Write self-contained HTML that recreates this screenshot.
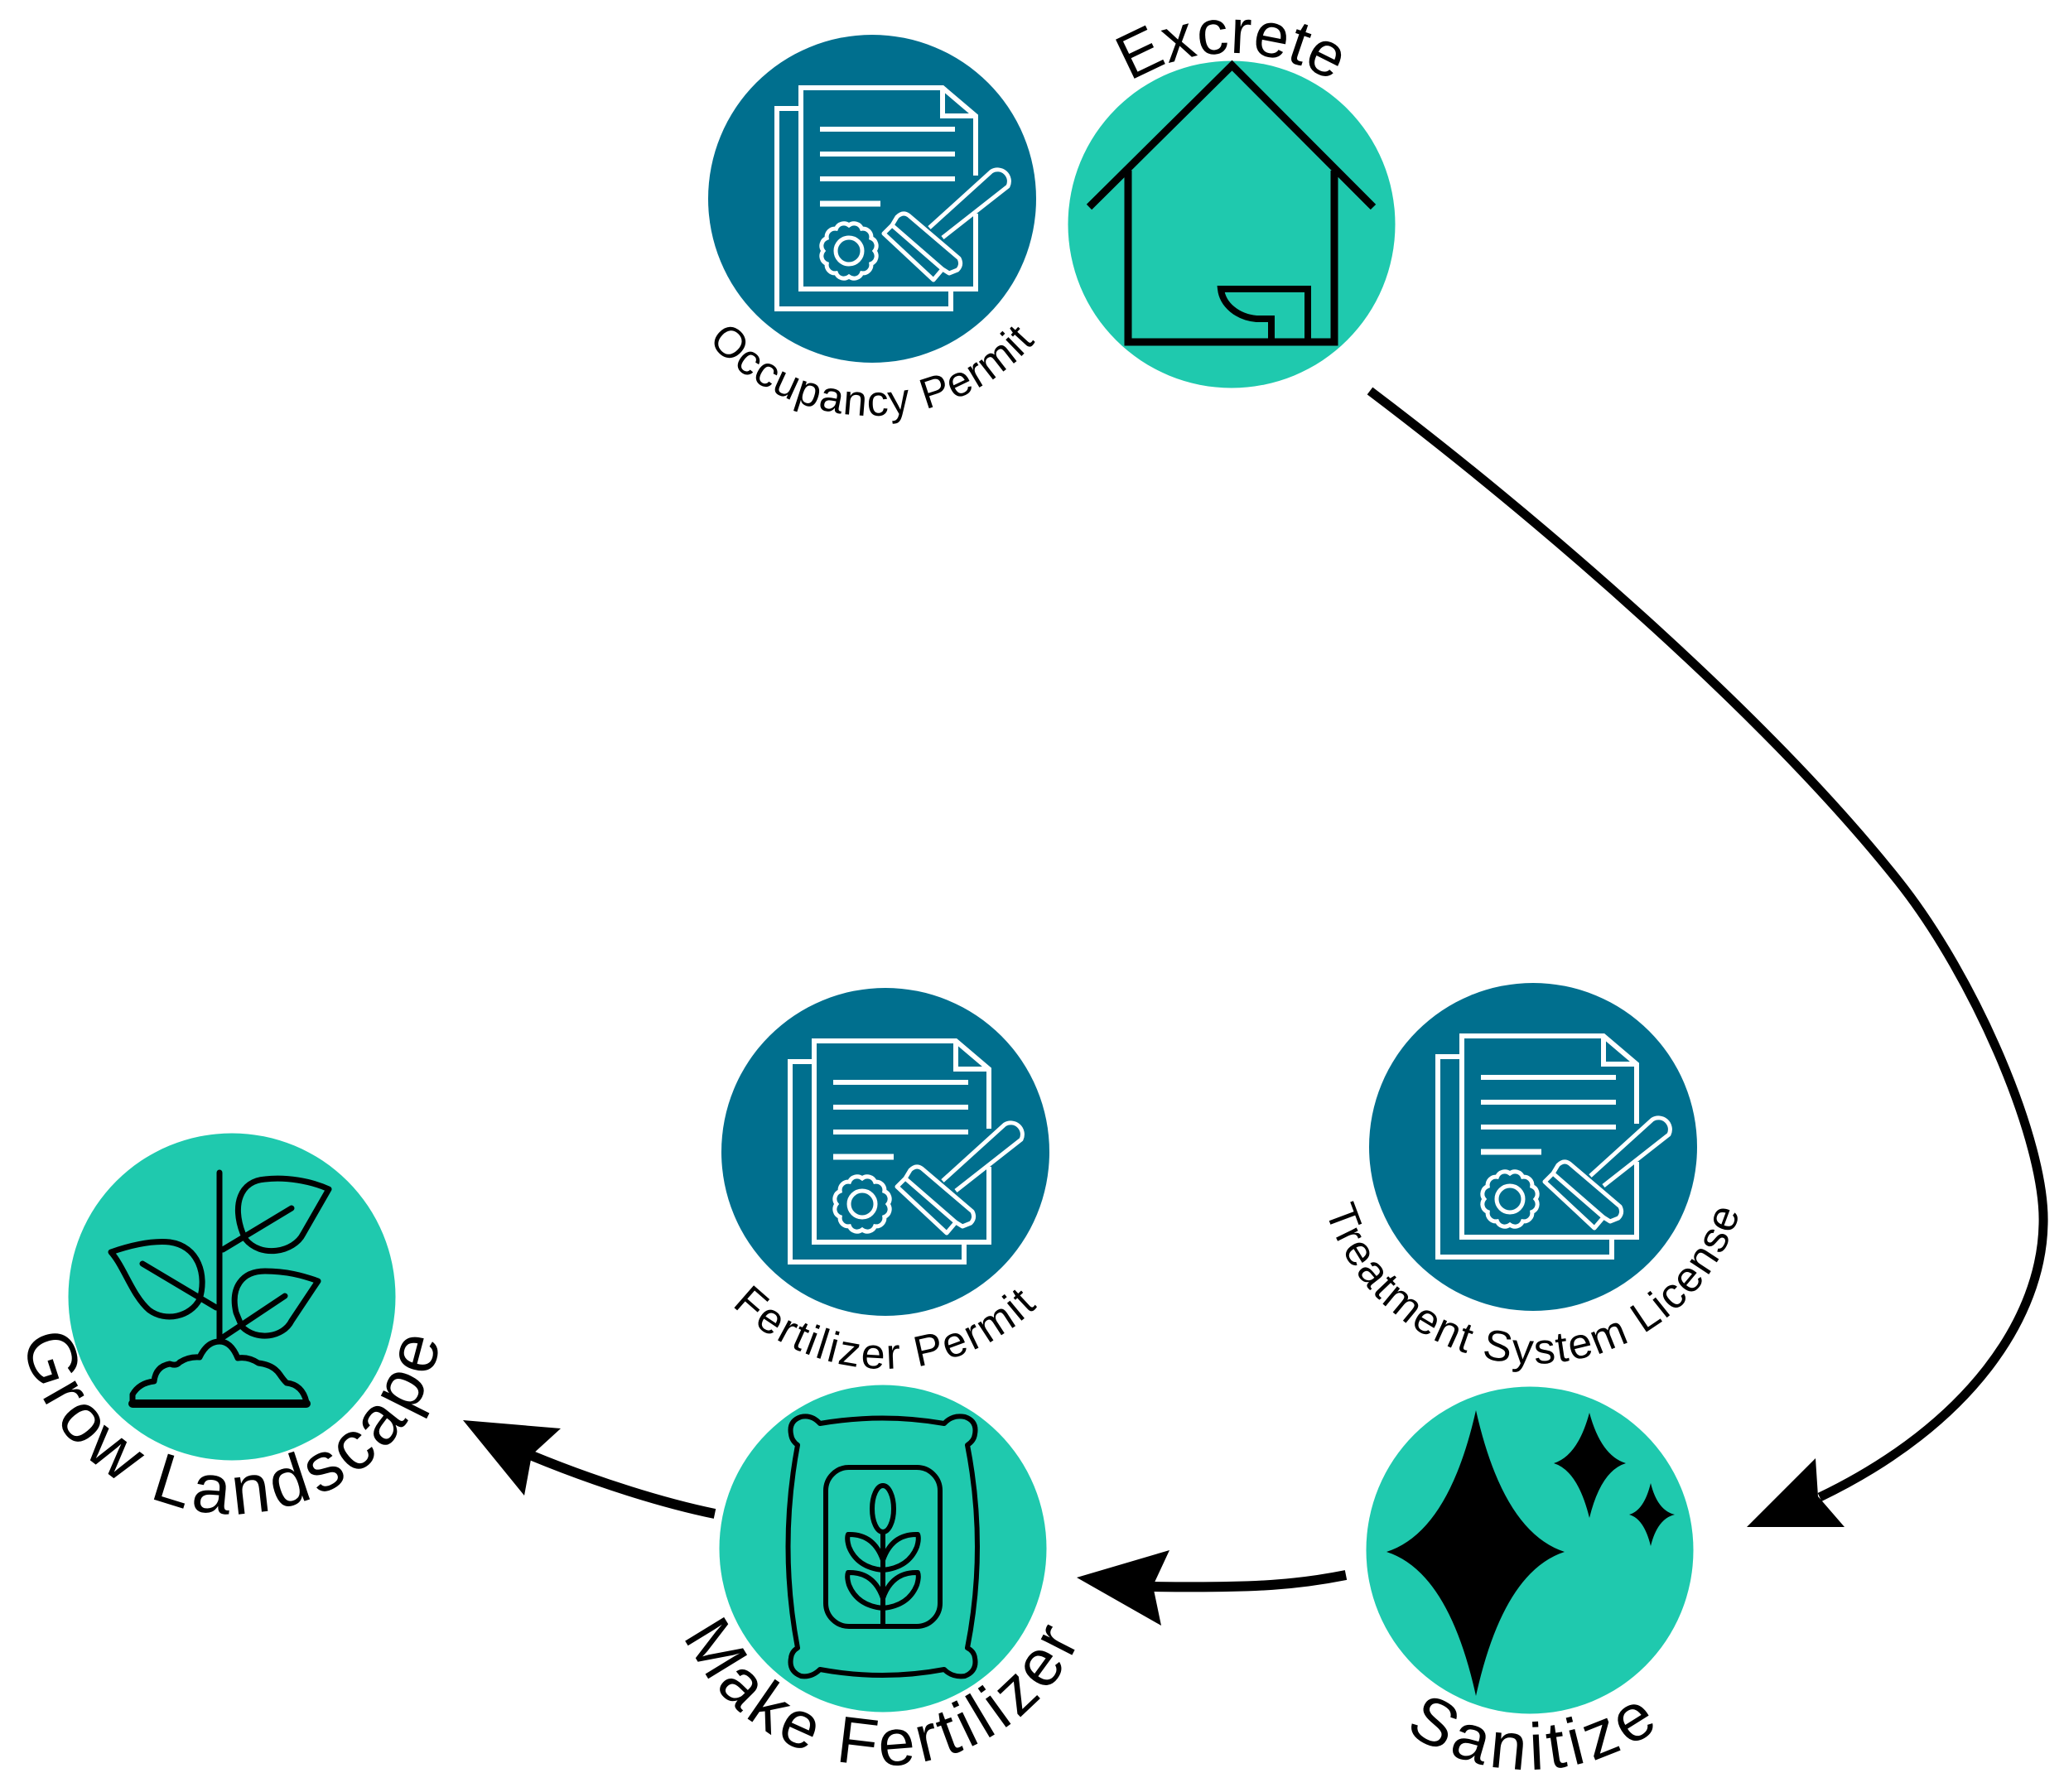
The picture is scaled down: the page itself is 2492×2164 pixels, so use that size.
<!DOCTYPE html>
<html lang="en">
<head>
<meta charset="utf-8">
<title>Diagram</title>
<style>
html,body{margin:0;padding:0;background:#fff;}
svg{display:block;}
text{font-family:"Liberation Sans",sans-serif;fill:#000;text-anchor:middle;}
.s{font-size:52px;}
.b{font-size:80px;}
</style>
</head>
<body>
<svg xmlns="http://www.w3.org/2000/svg" width="2492" height="2164" viewBox="0 0 2492 2164">
<defs>
<g id="doc" fill="none" stroke="#fff" stroke-width="6">
  <path d="M967,131H938V373H1148V350"/>
  <path d="M1178,212V140L1138,106H967V349H1178V258"/>
  <path d="M1138,106V140H1178"/>
  <path d="M990,156H1153M990,186H1153M990,216H1153" stroke-width="6"/>
  <path d="M990,246H1063" stroke-width="7"/>
  <path stroke-width="5" d="M1056,303A10,10 0 0 1 1051.800,318.500A10,10 0 0 1 1040.500,329.800A10,10 0 0 1 1025,334A10,10 0 0 1 1009.500,329.800A10,10 0 0 1 998.200,318.500A10,10 0 0 1 994,303A10,10 0 0 1 998.200,287.500A10,10 0 0 1 1009.500,276.200A10,10 0 0 1 1025,272A10,10 0 0 1 1040.500,276.200A10,10 0 0 1 1051.800,287.500A10,10 0 0 1 1056,303Z"/>
  <circle cx="1025" cy="303" r="16" stroke-width="5"/>
  <path d="M1122,275L1197,207A14,14 0 0 1 1217,225L1138,287" stroke-width="5" stroke-linejoin="round" fill="#006f8e"/>
  <path d="M1067,282L1077,272L1083,262Q1090,255 1097,260L1158,312Q1162,320 1156,326L1146,330L1138,325L1127,338Z" stroke-width="5" stroke-linejoin="round" fill="#006f8e"/>
  <path d="M1077,272L1138,325" stroke-width="5"/>
</g>
<path id="a1" d="M791,240A262,262 0 0 0 1315,240"/>
<path id="a2" d="M1589,1385A262,262 0 0 0 2113,1385"/>
<path id="a3" d="M807,1391A262,262 0 0 0 1331,1391"/>
<path id="a4" d="M1255,296A232,232 0 0 1 1719,296"/>
<path id="a5" d="M1582,1872A265,265 0 0 0 2112,1872"/>
<path id="a6" d="M804,1870A262,262 0 0 0 1328,1870"/>
<path id="a7" d="M24,1572A256,256 0 0 0 536,1572"/>
</defs>

<!-- curved arrows -->
<g fill="none" stroke="#000" stroke-linecap="butt">
<path stroke-width="11" d="M1654,472C1850,620 2130,860 2292,1064C2385,1181 2470,1380 2467,1478C2465,1590 2380,1720 2197,1808"/>
<path stroke-width="12" d="M1625,1902C1570,1913 1520,1918 1392,1916"/>
<path stroke-width="12" d="M863,1828C800,1815 720,1790 640,1757"/>
</g>
<polygon points="2109,1844 2192,1761 2195,1807 2227,1844"/>
<polygon points="1300,1905 1412,1872 1392,1915 1402,1963"/>
<polygon points="559,1715 677,1725 642,1757 633,1806"/>

<!-- circles -->
<circle cx="1053" cy="240" r="198" fill="#006f8e"/>
<circle cx="1851" cy="1385" r="198" fill="#006f8e"/>
<circle cx="1069" cy="1391" r="198" fill="#006f8e"/>
<circle cx="1487" cy="271" r="197.500" fill="#1fc9ae"/>
<circle cx="1847" cy="1872" r="197.500" fill="#1fc9ae"/>
<circle cx="1066" cy="1870" r="197.500" fill="#1fc9ae"/>
<circle cx="280" cy="1566" r="197.500" fill="#1fc9ae"/>

<!-- documents -->
<use href="#doc"/>
<use href="#doc" transform="translate(798,1145)"/>
<use href="#doc" transform="translate(16,1151)"/>

<!-- house -->
<g fill="none" stroke="#000" stroke-width="8">
<path d="M1315,250L1487.500,79L1658,250" stroke-width="9"/>
<path d="M1362,206V413H1611V206" stroke-width="9"/>
<path d="M1535,413V385H1517C1494,383 1476,368 1474,349H1579V413"/>
</g>

<!-- stars -->
<path d="M1782,1703Q1815,1850 1889,1874Q1815,1898 1782,2048Q1749,1898 1674,1874Q1749,1850 1782,1703Z"/>
<path d="M1919,1706Q1933,1758 1963,1767Q1933,1776 1919,1833Q1905,1776 1876,1767Q1905,1758 1919,1706Z"/>
<path d="M1993,1791Q2001,1824 2022,1829Q2001,1834 1993,1867Q1985,1834 1967,1829Q1985,1824 1993,1791Z"/>

<!-- fertilizer bag -->
<g fill="none" stroke="#000" stroke-width="6" stroke-linejoin="round">
<path d="M990,1719Q1066,1706 1140,1719Q1150,1708 1165,1711Q1180,1716 1177,1732Q1176,1740 1168,1745Q1192,1868 1168,1990Q1176,1994 1177,2002Q1180,2018 1165,2024Q1150,2026 1140,2016Q1066,2030 990,2016Q980,2026 967,2024Q952,2018 955,2002Q956,1994 963,1990Q940,1868 963,1745Q956,1740 955,1732Q952,1716 967,1711Q980,1708 990,1719Z"/>
<rect x="997" y="1772" width="138" height="192" rx="28"/>
<path d="M1066,1851V1964"/>
<ellipse cx="1066" cy="1822" rx="13" ry="28"/>
<path d="M1066,1896Q1035,1893 1025,1868Q1022,1858 1024,1853Q1055,1852 1066,1884Q1077,1852 1108,1853Q1110,1858 1107,1868Q1097,1893 1066,1896Z"/>
<path d="M1066,1942Q1035,1939 1025,1914Q1022,1904 1024,1899Q1055,1898 1066,1930Q1077,1898 1108,1899Q1110,1904 1107,1914Q1097,1939 1066,1942Z"/>
</g>

<!-- plant -->
<g fill="none" stroke="#000" stroke-width="7" stroke-linecap="round" stroke-linejoin="round">
<path d="M265,1416V1618"/>
<path d="M293,1489C280,1455 290,1426 320,1424C345,1421 375,1426 397,1436L366,1490C355,1512 315,1520 296,1496Z"/>
<path d="M269,1509L352,1459"/>
<path d="M134,1512C160,1503 185,1498 205,1500C240,1505 250,1540 241,1569C230,1590 200,1597 180,1582C160,1565 150,1530 134,1512Z"/>
<path d="M172,1526L261,1579"/>
<path d="M285,1585C278,1555 292,1535 320,1535C345,1535 365,1540 384,1547L352,1595C342,1615 310,1620 292,1602Z"/>
<path d="M269,1615L344,1565"/>
<path d="M160,1693V1684Q168,1670 186,1668Q188,1650 205,1647Q213,1650 217,1645Q228,1638 241,1639Q250,1620 265,1620Q279,1620 287,1640Q300,1638 312,1646Q330,1648 338,1660Q342,1666 346,1670Q365,1672 370,1693"/>
<path d="M160,1695H370" stroke-width="10"/>
</g>

<!-- labels -->
<text class="s" style="letter-spacing:1.5px"><textPath href="#a1" startOffset="50%">Occupancy Permit</textPath></text>
<text class="s" style="letter-spacing:2.1px"><textPath href="#a2" startOffset="50%">Treatment System License</textPath></text>
<text class="s" style="letter-spacing:2.8px"><textPath href="#a3" startOffset="50%">Fertilizer Permit</textPath></text>
<text style="font-size:76px"><textPath href="#a4" startOffset="50%">Excrete</textPath></text>
<text class="b" style="letter-spacing:6.2px"><textPath href="#a5" startOffset="50.8%">Sanitize</textPath></text>
<text class="b" style="letter-spacing:5.500px"><textPath href="#a6" startOffset="50%">Make Fertilizer</textPath></text>
<text style="font-size:84px;letter-spacing:6px"><textPath href="#a7" startOffset="50.3%">Grow Landscape</textPath></text>
</svg>
</body>
</html>
